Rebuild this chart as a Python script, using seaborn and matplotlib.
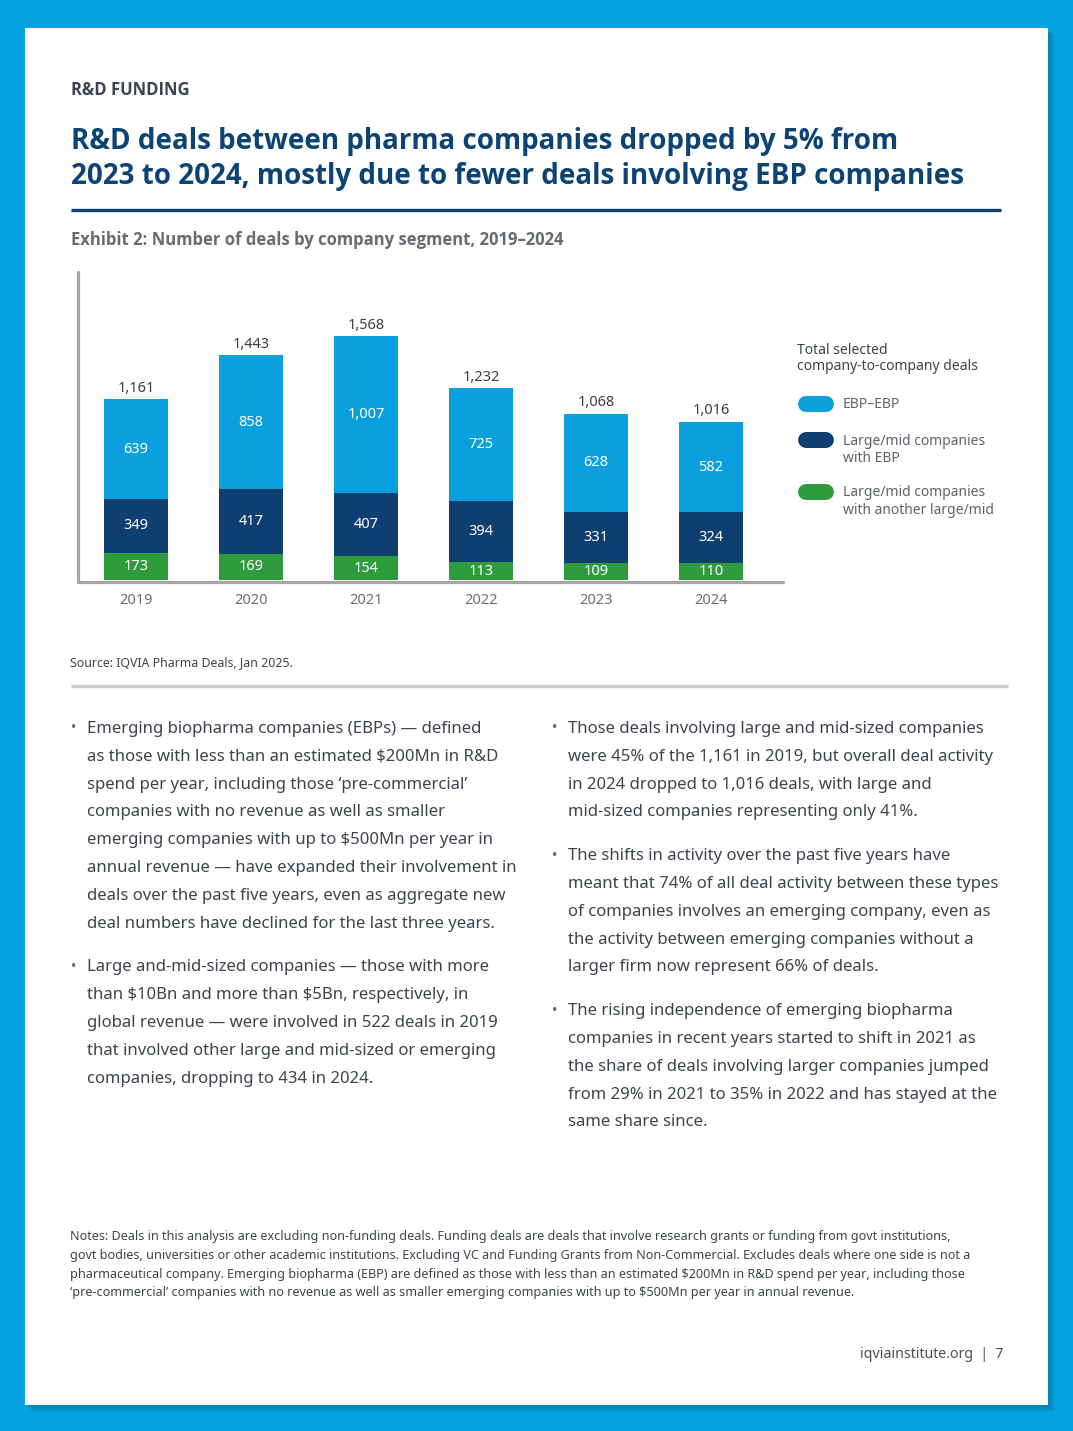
import numpy as np
import pandas as pd
import seaborn as sns
import matplotlib.pyplot as plt
from matplotlib.patches import Rectangle
from matplotlib.lines import Line2D

# data read from the exhibit
years = ['2019', '2020', '2021', '2022', '2023', '2024']
ebp_ebp = [639, 858, 1007, 725, 628, 582]
large_with_ebp = [349, 417, 407, 394, 331, 324]
large_with_large = [173, 169, 154, 113, 109, 110]
totals = [1161, 1443, 1568, 1232, 1068, 1016]
segment_labels = ['EBP–EBP', 'Large/mid companies\nwith EBP',
                  'Large/mid companies\nwith another large/mid']

LIGHT = '#0aa0de'
NAVY = '#0f3e70'
GREEN = '#2e9c3c'
BORDER = '#04a2e0'
TITLE = '#0b4374'

W, H = 1073, 1431

sns.set_theme(style='white')
plt.rcParams['font.family'] = ['Noto Sans', 'DejaVu Sans']
plt.rcParams['text.parse_math'] = False
BOLD = ['Open Sans', 'Noto Sans', 'DejaVu Sans']

fig = plt.figure(figsize=(W / 100, H / 100), dpi=100)
fig.patch.set_facecolor(BORDER)


def ftext(x, y, s, **kw):
    kw.setdefault('va', 'center_baseline')
    return fig.text(x / W, 1 - y / H, s, **kw)


def hline(x0, x1, y, color, lw):
    fig.add_artist(Line2D([x0 / W, x1 / W], [1 - y / H, 1 - y / H], color=color,
                          lw=lw, transform=fig.transFigure, solid_capstyle='butt'))


# page with a soft shadow
for k in range(6):
    fig.add_artist(Rectangle(((25 + 2 + k) / W, 1 - (1405 + 2 + k) / H),
                             (1048 - 25) / W, (1405 - 28) / H,
                             transform=fig.transFigure, color='#003a60',
                             alpha=0.05, lw=0, zorder=-20))
fig.add_artist(Rectangle((25 / W, 1 - 1405 / H), (1048 - 25) / W, (1405 - 28) / H,
                         transform=fig.transFigure, color='white', lw=0, zorder=-10))

# headings
ftext(71, 88, 'R&D FUNDING', fontsize=12, fontweight='bold', family=BOLD,
      color='#3d4350')
ftext(71, 138, 'R&D deals between pharma companies dropped by 5% from',
      fontsize=20, fontweight='bold', family=BOLD, color=TITLE)
ftext(71, 173, '2023 to 2024, mostly due to fewer deals involving EBP companies',
      fontsize=20, fontweight='bold', family=BOLD, color=TITLE)
hline(71, 1001, 210, TITLE, 2.4)
ftext(71, 238, 'Exhibit 2: Number of deals by company segment, 2019–2024',
      fontsize=12, fontweight='bold', family=BOLD, color='#676b76')

# chart
ax = fig.add_axes([78 / W, 1 - 582 / H, (783 - 78) / W, (582 - 272) / H])
ax.patch.set_alpha(0)
df = pd.DataFrame({'year': years, 'ebp': ebp_ebp, 'mid_ebp': large_with_ebp,
                   'mid_mid': large_with_large})
df['base_ebp'] = df['mid_mid'] + df['mid_ebp']

bw = 0.557
sns.barplot(data=df, x='year', y='mid_mid', color=GREEN, saturation=1,
            width=bw, errorbar=None, linewidth=0, ax=ax)
sns.barplot(data=df, x='year', y='mid_ebp', bottom=df['mid_mid'].to_numpy(),
            color=NAVY, saturation=1, width=bw, errorbar=None, linewidth=0, ax=ax)
sns.barplot(data=df, x='year', y='ebp', bottom=df['base_ebp'].to_numpy(),
            color=LIGHT, saturation=1, width=bw, errorbar=None, linewidth=0, ax=ax)

for i, row in df.iterrows():
    segs = [(0, row['mid_mid']), (row['mid_mid'], row['mid_ebp']),
            (row['base_ebp'], row['ebp'])]
    for b, v in segs:
        ax.text(i, b + v / 2, f'{v:,}', ha='center', va='center',
                color='white', fontsize=10.5)
    ax.annotate(f'{totals[i]:,}', (i, row['base_ebp'] + row['ebp']),
                xytext=(0, 2.5), textcoords='offset points', ha='center',
                va='bottom', fontsize=10.5, color='#3a3e47')

ax.set_xlim(-0.504, 5.626)
ax.set_ylim(-13, 1980)
ax.set_xlabel('')
ax.set_ylabel('')
ax.set_yticks([])
ax.tick_params(axis='x', length=0, pad=8, labelsize=10.5, labelcolor='#6b6f78')
for lbl in ax.get_xticklabels():
    lbl.set_x(lbl.get_position()[0])
for side in ['top', 'right']:
    ax.spines[side].set_visible(False)
for side in ['left', 'bottom']:
    ax.spines[side].set_color('#a6a6a6')
    ax.spines[side].set_linewidth(2.3)
    ax.spines[side].set_capstyle('round')

# legend
ftext(797, 348, 'Total selected', fontsize=10.05, color='#3d4350')
ftext(797, 365, 'company-to-company deals', fontsize=10.05, color='#3d4350')
legend_y = [404, 440, 492]
for c, lab, y in zip([LIGHT, NAVY, GREEN], segment_labels, legend_y):
    fig.add_artist(Line2D([806 / W, 826 / W], [1 - y / H, 1 - y / H], color=c,
                          lw=11.5, solid_capstyle='round', transform=fig.transFigure))
    for j, part in enumerate(lab.split('\n')):
        ftext(843, y - 1 + 17 * j, part, fontsize=10, color='#5f636d')

ftext(70, 661, 'Source: IQVIA Pharma Deals, Jan 2025.', fontsize=8.9, color='#3d4350')
hline(71, 1008, 686, '#c9c9c9', 2.4)

# body text
left_col = [
    ['Emerging biopharma companies (EBPs) — defined',
     'as those with less than an estimated $200Mn in R&D',
     'spend per year, including those ‘pre-commercial’',
     'companies with no revenue as well as smaller',
     'emerging companies with up to $500Mn per year in',
     'annual revenue — have expanded their involvement in',
     'deals over the past five years, even as aggregate new',
     'deal numbers have declined for the last three years.'],
    ['Large and-mid-sized companies — those with more',
     'than $10Bn and more than $5Bn, respectively, in',
     'global revenue — were involved in 522 deals in 2019',
     'that involved other large and mid-sized or emerging',
     'companies, dropping to 434 in 2024.'],
]
right_col = [
    ['Those deals involving large and mid-sized companies',
     'were 45% of the 1,161 in 2019, but overall deal activity',
     'in 2024 dropped to 1,016 deals, with large and',
     'mid-sized companies representing only 41%.'],
    ['The shifts in activity over the past five years have',
     'meant that 74% of all deal activity between these types',
     'of companies involves an emerging company, even as',
     'the activity between emerging companies without a',
     'larger firm now represent 66% of deals.'],
    ['The rising independence of emerging biopharma',
     'companies in recent years started to shift in 2021 as',
     'the share of deals involving larger companies jumped',
     'from 29% in 2021 to 35% in 2022 and has stayed at the',
     'same share since.'],
]
step = 27.8
for col, xb, xt in [(left_col, 74, 87), (right_col, 555, 568)]:
    y = 727
    for para in col:
        ftext(xb, y, '•', fontsize=10, color='#5f636d', ha='center')
        for line in para:
            ftext(xt, y, line, fontsize=12.05, color='#3d4350')
            y += step
        y += 16

notes = [
    'Notes: Deals in this analysis are excluding non-funding deals. Funding deals are deals that involve research grants or funding from govt institutions,',
    'govt bodies, universities or other academic institutions. Excluding VC and Funding Grants from Non-Commercial. Excludes deals where one side is not a',
    'pharmaceutical company. Emerging biopharma (EBP) are defined as those with less than an estimated $200Mn in R&D spend per year, including those',
    '‘pre-commercial’ companies with no revenue as well as smaller emerging companies with up to $500Mn per year in annual revenue.',
]
for j, line in enumerate(notes):
    ftext(70, 1235 + 18.8 * j, line, fontsize=9.05, color='#3d4350')

ftext(1004, 1352, 'iqviainstitute.org  |  7', fontsize=10.2, color='#4a4f5a', ha='right')

fig.savefig('out.png', dpi=100, facecolor=fig.get_facecolor())
